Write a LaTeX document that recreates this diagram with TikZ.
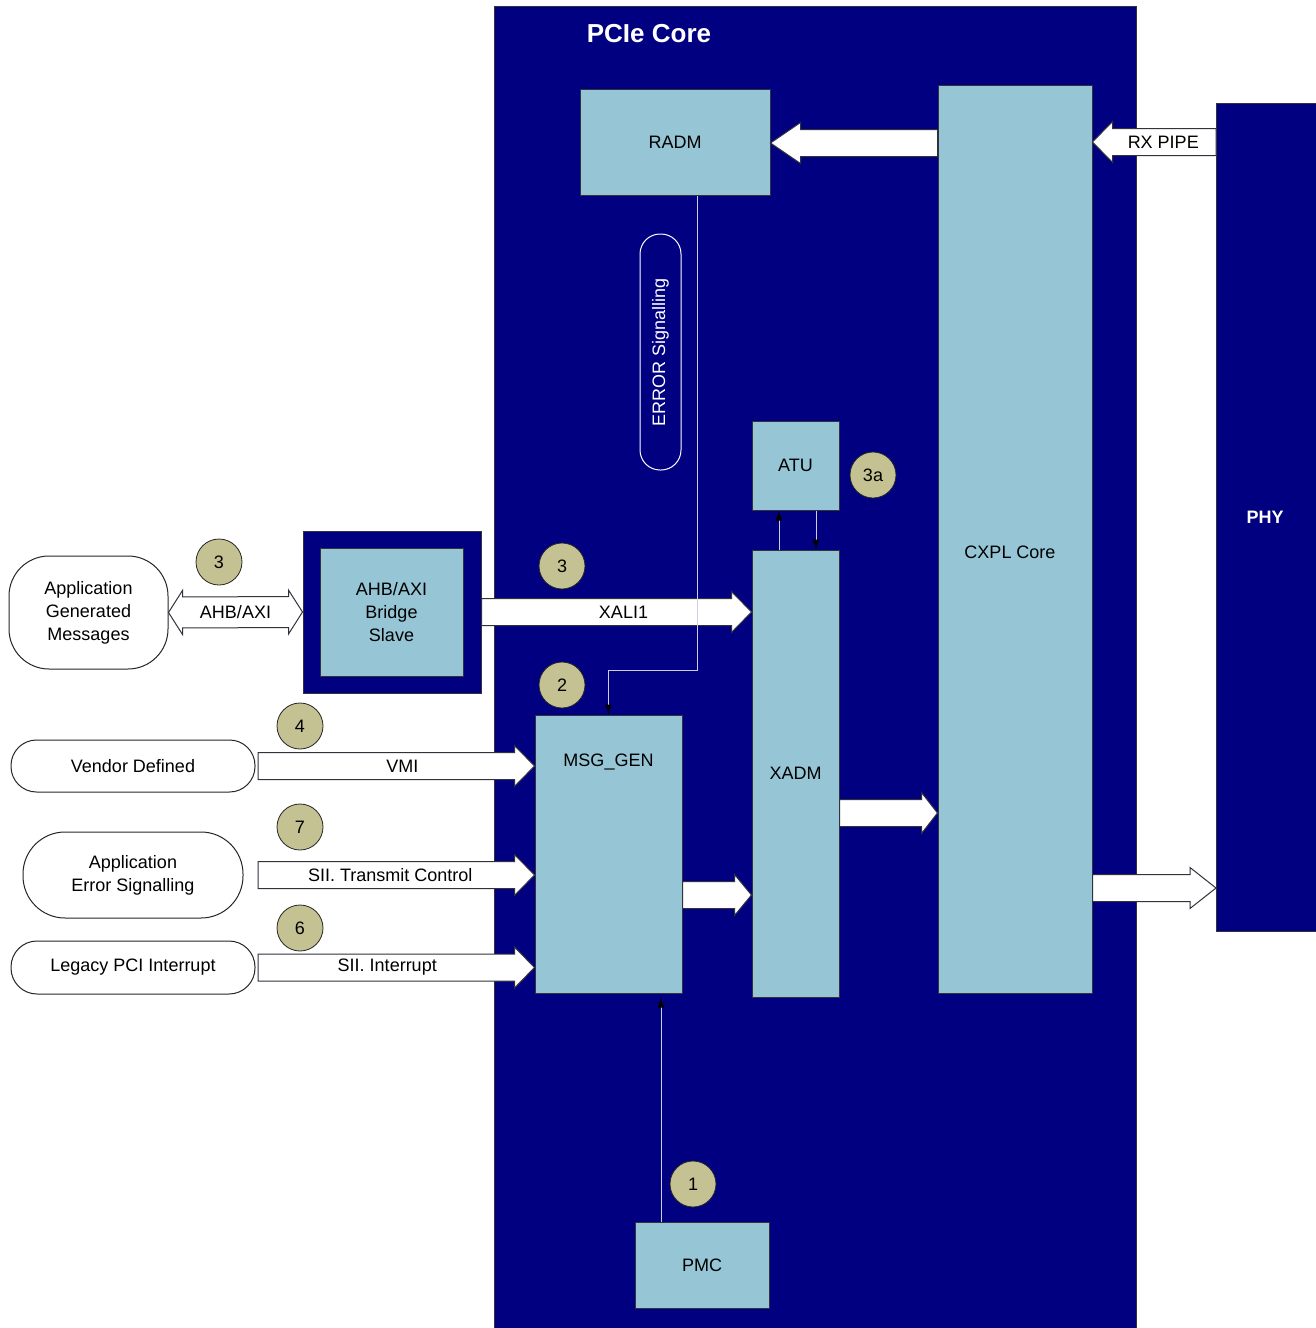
\documentclass[tikz,border=0pt]{standalone}
\usepackage{fontspec}
\setmainfont{Liberation Sans}
\usetikzlibrary{calc,arrows.meta}

\definecolor{corenavy}{RGB}{0,0,128}
\definecolor{blockblue}{RGB}{150,197,213}
\definecolor{tagkhaki}{RGB}{196,194,146}
\definecolor{wirecol}{RGB}{205,205,235}
\definecolor{edgegray}{RGB}{50,50,60}

% fat white arrow from #2 to #3 (horizontal), head length #1, label #5 moved by #4
\newcommand{\fatarrow}[5][20]{%
	\draw [fatarr] ($(#2)+(0,-13.5)$) -- ($(#3)!#1pt!(#2)+(0,-13.5)$) -- ($(#3)!#1pt!(#2)+(0,-20.5)$)
		-- (#3) -- ($(#3)!#1pt!(#2)+(0,20.5)$) -- ($(#3)!#1pt!(#2)+(0,13.5)$) -- ($(#2)+(0,13.5)$) -- cycle;
	\node [txt, xshift=#4pt] at ($(#2)!0.5!(#3)$) {#5};}

\begin{document}
\begin{tikzpicture} [x=1pt, y=-1pt,
	txt/.style={font=\fontsize{18}{23}\selectfont},
	block/.style={txt, draw=edgegray, line width=1pt, fill=blockblue, inner sep=0pt, align=center},
	outside/.style={txt, draw=black!85, line width=1pt, fill=white, inner sep=0pt, align=center},
	tag/.style={txt, circle, draw=black!85, line width=0.8pt, fill=tagkhaki, minimum size=46pt, inner sep=0pt},
	fatarr/.style={draw=edgegray, line width=1pt, fill=white},
	wire/.style={wirecol, line width=1pt, -{Latex[length=10pt,width=7pt,color=black]}}]
	\useasboundingbox [fill=white] (0,0) rectangle (1315,1328);
	% core and PHY
	\node [draw=edgegray, line width=1pt, fill=corenavy, minimum width=642pt, minimum height=1330pt, anchor=north west] (core) at (494,6) {};
	\node [font=\fontsize{26}{30}\selectfont\bfseries, text=white] (coretitle) at (649,34) {PCIe Core};
	\node [draw=edgegray, line width=1pt, fill=corenavy, minimum width=104pt, minimum height=828pt, anchor=north west] (phy) at (1216,103) {};
	\node [font=\fontsize{18}{23}\selectfont\bfseries, text=white] at (1265,517) {PHY};
	% blocks inside the core
	\node [block, minimum width=190pt, minimum height=106pt] (radm) at (675,142) {RADM};
	\node [block, minimum width=154pt, minimum height=908pt, label={[txt, xshift=-5pt, yshift=-13pt]center:CXPL Core}] (cxpl) at (1015,539) {};
	\node [block, minimum width=87pt, minimum height=89pt] (atu) at (795.5,465.5) {ATU};
	\node [block, minimum width=87pt, minimum height=447pt] (xadm) at (795.5,773.5) {XADM};
	\node [block, minimum width=147pt, minimum height=278pt, label={[txt, anchor=north, yshift=-36pt]north:MSG\_GEN}] (msggen) at (608.5,854) {};
	\node [block, minimum width=134pt, minimum height=86pt] (pmc) at (702,1265) {PMC};
	\node [txt, draw=white, line width=1pt, text=white, rotate=90, rounded corners=20pt,
		minimum width=236pt, minimum height=41pt, inner sep=0pt] (errsig) at (660.5,352) {ERROR Signalling};
	% bridge
	\node [draw=edgegray, line width=1pt, fill=corenavy, minimum width=178pt, minimum height=162pt] (bridge) at (392,612) {};
	\node [block, minimum width=143pt, minimum height=128pt] (bridgein) at (391.5,612) {AHB/AXI\\Bridge\\Slave};
	% application side
	\node [outside, rounded corners=40pt, minimum width=159pt, minimum height=113pt] (appmsg) at (88.5,612.5) {Application\\Generated\\Messages};
	\node [outside, rounded corners=25.5pt, minimum width=244pt, minimum height=52pt] (vendor) at (133,766) {Vendor Defined};
	\node [outside, rounded corners=42pt, minimum width=220pt, minimum height=86pt] (apperr) at (133,875) {Application\\Error Signalling};
	\node [outside, rounded corners=26pt, minimum width=244pt, minimum height=53pt] (legacy) at (133,967.5) {Legacy PCI Interrupt};
	% numbered tags
	\node [tag] (tag3a) at (873,475) {3a};
	\node [tag] (tag3l) at (219,562) {3};
	\node [tag] (tag3r) at (562,566) {3};
	\node [tag] (tag2) at (562,685) {2};
	\node [tag] (tag4) at (300,726) {4};
	\node [tag] (tag7) at (300,827) {7};
	\node [tag] (tag6) at (300,928) {6};
	\node [tag] (tag1) at (693,1184) {1};
	% fat arrows
	\coordinate (inlet) at (258,0);
	\fatarrow{phy.west |- 0,142}{cxpl.east |- 0,142}{9}{RX PIPE}
	\fatarrow[30]{cxpl.west |- 0,143}{radm.east |- 0,143}{0}{}
	\fatarrow{bridge.east |- 0,612}{xadm.west |- 0,612}{7}{XALI1}
	\fatarrow{inlet |- vendor.east}{msggen.west |- vendor.east}{6}{VMI}
	\fatarrow{inlet |- apperr.east}{msggen.west |- apperr.east}{-6}{SII. Transmit Control}
	\fatarrow{inlet |- legacy.east}{msggen.west |- legacy.east}{-9}{SII. Interrupt}
	\fatarrow[17]{msggen.east |- 0,895}{xadm.west |- 0,895}{0}{}
	\fatarrow[16]{xadm.east |- 0,813}{cxpl.west |- 0,813}{0}{}
	\fatarrow[26]{cxpl.east |- 0,888}{phy.west |- 0,888}{0}{}
	%\draw (appmsg) -- (bridge);
	\draw [fatarr] (appmsg.east) -- ($(appmsg.east)!14pt!(bridge.west)+(0,-22)$) -- ($(appmsg.east)!14pt!(bridge.west)+(0,-15.5)$)
		-- ($(bridge.west)!14pt!(appmsg.east)+(0,-15.5)$) -- ($(bridge.west)!14pt!(appmsg.east)+(0,-22)$) -- (bridge.west)
		-- ($(bridge.west)!14pt!(appmsg.east)+(0,22)$) -- ($(bridge.west)!14pt!(appmsg.east)+(0,15.5)$)
		-- ($(appmsg.east)!14pt!(bridge.west)+(0,15.5)$) -- ($(appmsg.east)!14pt!(bridge.west)+(0,22)$) -- cycle;
	\node [txt] at ($(appmsg.east)!0.5!(bridge.west)$) {AHB/AXI};
	% thin wires
	\draw [wire] (radm.south -| 697,0) |- ($(msggen.north)+(0,-44)$) -- (msggen.north);
	\draw [wire, shorten >=4pt] (pmc.north -| 661,0) -- (msggen.south -| 661,0);
	\draw [wire] (xadm.north -| 779,0) -- (atu.south -| 779,0);
	\draw [wire] (atu.south -| 816,0) -- (xadm.north -| 816,0);
\end{tikzpicture}
\end{document}
